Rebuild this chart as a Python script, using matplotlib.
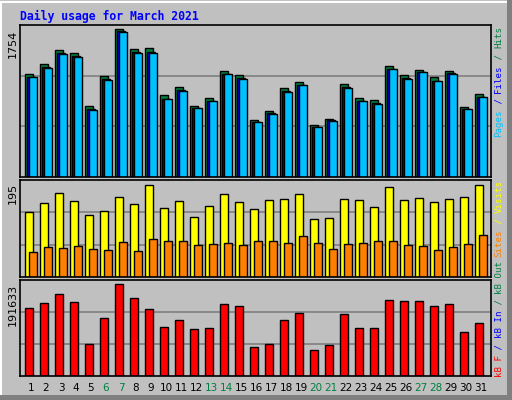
import numpy as np
import matplotlib
matplotlib.use("Agg")
import matplotlib.pyplot as plt
from matplotlib.patches import Rectangle

days = list(range(1, 32))
hits = [1217, 1336, 1503, 1467, 847, 1193, 1754, 1515, 1527, 966, 1062, 847, 942, 1253, 1205, 680,
        787, 1050, 1121, 620, 692, 1097, 942, 907, 1312, 1205, 1265, 1181, 1253, 835, 978]
files = [1190, 1300, 1465, 1430, 800, 1160, 1730, 1480, 1480, 930, 1030, 820, 905, 1225, 1170, 655,
         760, 1020, 1095, 595, 670, 1070, 905, 880, 1285, 1170, 1245, 1140, 1235, 805, 950]
pages = [1185, 1295, 1460, 1420, 790, 1150, 1720, 1470, 1470, 920, 1020, 815, 900, 1215, 1160, 650,
         750, 1010, 1085, 590, 665, 1060, 900, 870, 1280, 1160, 1240, 1135, 1225, 800, 945]
visits = [138, 157, 178, 161, 131, 140, 170, 155, 195, 146, 161, 127, 151, 176, 159, 144,
          163, 165, 176, 123, 125, 165, 163, 148, 191, 163, 167, 159, 165, 170, 195]
sites = [53, 64, 61, 66, 59, 57, 74, 55, 81, 76, 76, 68, 70, 72, 68, 76,
         76, 72, 87, 72, 59, 70, 72, 76, 76, 68, 66, 57, 64, 70, 89]
kbytes = [141600, 152000, 170800, 154100, 66700, 120800, 191633, 162500, 139600, 102100, 116600,
          97900, 100000, 150000, 145800, 60400, 66700, 116600, 131200, 54200, 64600, 129100,
          100000, 100000, 158300, 156200, 156200, 145800, 150000, 91700, 110400]
weekends = [6, 7, 13, 14, 20, 21, 27, 28]

W, H = 512, 400
BG = "#C0C0C0"
fig = plt.figure(figsize=(W / 100, H / 100), dpi=100, facecolor=BG)

# bevel border
fig.patches.append(Rectangle((1 / W, 1 / H), (W - 3) / W, (H - 3) / H, transform=fig.transFigure,
                             fill=False, edgecolor="white", lw=1.5))
fig.patches.append(Rectangle((0, 0), 1, 5 / H, transform=fig.transFigure, color="#808080", lw=0))
fig.patches.append(Rectangle((1 - 5 / W, 0), 5 / W, 1, transform=fig.transFigure, color="#808080", lw=0))

x0, x1 = 20, 491
px = 1 / 15.0  # one pixel in day units
xlim = (1 + (x0 - 25) / 15, 1 + (x1 - 25) / 15)


def make_ax(top, bottom):
    ax = fig.add_axes([x0 / W, 1 - bottom / H, (x1 - x0) / W, (bottom - top) / H])
    ax.set_facecolor(BG)
    ax.set_xlim(*xlim)
    ax.set_xticks([])
    ax.set_yticks([])
    for s in ax.spines.values():
        s.set_color("black")
        s.set_linewidth(1.2)
    return ax


def grid(ax, ymax):
    for f in (1 / 3, 2 / 3):
        ax.axhline(ymax * f, color="#808080", lw=1.2, zorder=0)


d = np.array(days)
kw = dict(align="edge", edgecolor="black", linewidth=1)

ax1 = make_ax(25, 177)
ymax1 = 1754 * 152 / 148
ax1.set_ylim(0, ymax1)
grid(ax1, ymax1)
ax1.bar(d, hits, width=8 * px, color="#008040", **kw)
ax1.bar(d + 2 * px, files, width=8 * px, color="#0000FF", **kw)
ax1.bar(d + 4 * px, pages, width=8 * px, color="#00C0FF", **kw)

ax2 = make_ax(180, 277)
ymax2 = 195 * 97 / 92
ax2.set_ylim(0, ymax2)
grid(ax2, ymax2)
ax2.bar(d, visits, width=8 * px, color="#FFFF00", **kw)
ax2.bar(d + 4 * px, sites, width=8 * px, color="#FF8000", **kw)

ax3 = make_ax(280, 376)
ymax3 = 191633 * 96 / 92
ax3.set_ylim(0, ymax3)
grid(ax3, ymax3)
ax3.bar(d, kbytes, width=8 * px, color="#FF0000", **kw)

mono = "DejaVu Sans Mono"
fig.text(20 / W, 1 - 16 / H, "Daily usage for March 2021", color="#0000FF", family=mono,
         weight="bold", fontsize=8.3, va="center")

for val, y in (("1754", 30), ("195", 183), ("191633", 284)):
    fig.text(13 / W, 1 - y / H, val, rotation=90, ha="center", va="top", fontsize=8, color="black")

# day labels
for day in days:
    xc = 25 + 15 * (day - 1) + 6
    fig.text(xc / W, 1 - 388 / H, str(day), ha="center", va="center", fontsize=7.5,
             color="#008040" if day in weekends else "black")

# colored vertical legends (bottom to top)
step = 5.55


def vlabel(parts, ybottom, x=499):
    y = ybottom
    for txt, col in parts:
        fig.text(x / W, 1 - y / H, txt, rotation=90, ha="center", va="bottom", family=mono,
                 fontsize=6.6, color=col)
        y -= step * len(txt)


vlabel([("Pages", "#00C0FF"), (" / ", "#0000FF"), ("Files", "#0000FF"), (" / ", "#008040"),
        ("Hits", "#008040")], 137)
vlabel([("Sites", "#FF8000"), (" / ", "#FFFF00"), ("Visits", "#FFFF00")], 257)
vlabel([("kB F", "#FF0000"), (" / ", "#0000FF"), ("kB In", "#0000FF"), (" / ", "#008040"),
        ("kB Out", "#008040")], 377)

fig.savefig("out.png", dpi=100, facecolor=BG)
